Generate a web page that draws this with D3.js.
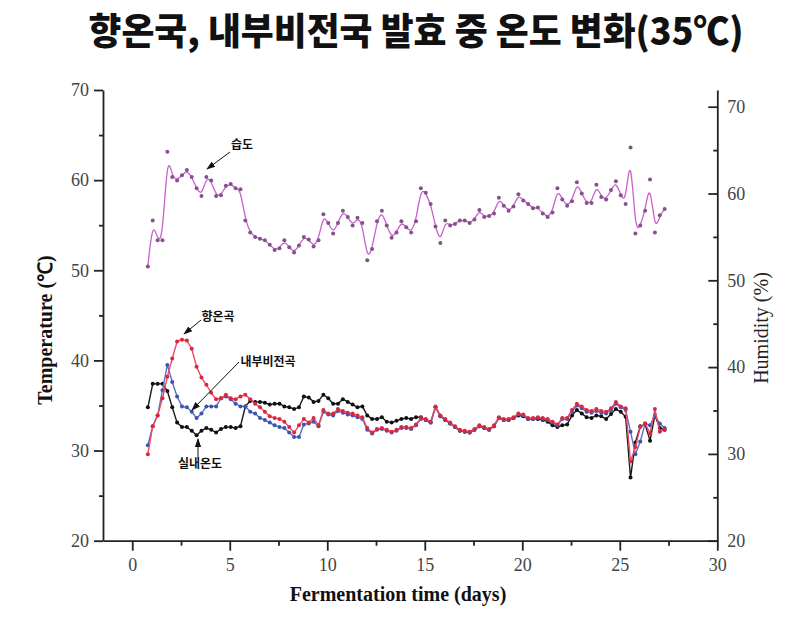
<!DOCTYPE html>
<html><head><meta charset="utf-8">
<script src="https://cdn.jsdelivr.net/npm/d3@7"></script>
<style>body{margin:0;background:#fff}</style>
</head><body><svg id="c" width="800" height="621"></svg>
<script>
const days = [0.80,1.05,1.30,1.55,1.80,2.05,2.30,2.55,2.80,3.05,3.30,3.55,3.80,4.05,4.30,4.55,4.80,5.05,5.30,5.55,5.80,6.05,6.30,6.55,6.80,7.05,7.30,7.55,7.80,8.05,8.30,8.55,8.80,9.05,9.30,9.55,9.80,10.05,10.30,10.55,10.80,11.05,11.30,11.55,11.80,12.05,12.30,12.55,12.80,13.05,13.30,13.55,13.80,14.05,14.30,14.55,14.80,15.05,15.30,15.55,15.80,16.05,16.30,16.55,16.80,17.05,17.30,17.55,17.80,18.05,18.30,18.55,18.80,19.05,19.30,19.55,19.80,20.05,20.30,20.55,20.80,21.05,21.30,21.55,21.80,22.05,22.30,22.55,22.80,23.05,23.30,23.55,23.80,24.05,24.30,24.55,24.80,25.05,25.30,25.55,25.80,26.05,26.30,26.55,26.80,27.05,27.30];

const humidity = [51.6,56.9,54.6,54.6,64.8,61.9,61.5,62.1,62.7,61.9,
60.6,59.7,61.9,61.5,59.7,59.8,60.9,61.1,60.6,60.5,
56.9,55.5,55.0,54.8,54.6,54.1,53.5,53.7,54.6,53.8,
53.2,54.0,55.0,54.7,53.9,54.6,57.6,56.6,55.4,56.6,
58.0,57.3,56.3,57.2,56.6,52.3,53.6,56.8,58.0,56.3,
54.9,55.5,56.8,56.1,55.5,56.8,60.6,60.1,58.8,56.2,
54.3,56.9,56.3,56.5,56.9,56.9,56.6,57.0,58.1,57.3,
57.4,57.7,59.5,58.6,58.0,58.5,59.9,59.2,58.8,58.3,
58.4,57.7,57.3,57.8,60.6,59.3,58.6,59.1,61.3,60.0,
58.9,58.9,61.0,59.6,59.3,60.4,61.4,59.8,58.8,65.3,
55.4,56.3,58.0,61.6,55.5,57.5,58.2];

const hyangon = [29.6,32.7,33.9,35.8,38.2,40.2,42.1,42.3,42.2,41.3,
39.3,38.1,37.3,36.4,35.7,35.8,36.2,35.8,35.7,36.0,
36.2,35.7,35.2,34.8,34.3,33.8,33.6,33.5,33.2,32.6,
32.0,32.8,33.5,33.1,33.6,32.8,34.5,34.1,34.1,34.6,
34.4,34.2,34.1,33.9,33.7,32.5,32.0,32.4,32.5,32.3,
32.1,32.3,32.6,32.6,32.5,32.9,33.6,33.5,33.2,34.9,
33.9,33.5,33.1,32.7,32.3,32.2,32.1,32.4,32.8,32.6,
32.4,32.8,33.7,33.5,33.5,33.7,34.1,34.0,33.6,33.6,
33.7,33.6,33.5,33.2,32.9,33.6,33.6,34.5,35.2,34.9,
34.5,34.4,34.6,34.4,34.3,34.7,35.4,34.9,34.7,28.8,
30.4,32.6,33.0,31.9,34.6,32.1,32.3];

const naebu = [30.6,32.7,33.9,36.7,39.5,37.6,36.0,34.9,34.8,34.3,
33.6,34.1,34.9,34.9,34.9,35.8,36.0,35.7,35.2,34.9,
34.9,34.3,34.1,33.6,33.4,33.1,32.8,32.6,32.5,32.0,
31.5,31.5,32.9,33.0,33.2,32.7,34.3,34.0,33.9,34.4,
34.2,34.0,33.9,33.7,33.5,32.3,31.9,32.3,32.4,32.2,
32.0,32.2,32.5,32.5,32.4,32.8,33.5,33.4,33.1,34.8,
33.8,33.4,33.0,32.6,32.2,32.1,32.0,32.3,32.7,32.5,
32.3,32.7,33.6,33.4,33.4,33.6,34.0,33.9,33.5,33.5,
33.6,33.5,33.4,33.1,32.8,33.5,33.5,34.3,35.0,34.7,
34.3,34.2,34.4,34.2,34.1,34.5,35.2,34.8,34.5,32.1,
29.6,31.0,33.0,32.8,33.9,33.0,32.5];

const indoor = [34.8,37.4,37.4,37.4,36.6,34.8,33.1,32.6,32.6,32.2,
31.7,32.2,32.5,32.3,32.0,32.4,32.6,32.6,32.5,32.7,
34.9,35.5,35.4,35.4,35.3,35.1,35.2,35.2,34.9,34.8,
34.6,34.8,36.0,35.9,35.4,35.5,36.2,35.8,35.2,35.2,
35.7,35.4,35.1,34.8,34.9,33.9,33.5,33.5,33.7,33.2,
33.1,33.3,33.5,33.6,33.5,33.7,33.7,33.4,33.1,34.8,
33.8,33.4,33.0,32.6,32.2,32.1,32.0,32.3,32.7,32.5,
32.3,32.7,33.6,33.4,33.4,33.6,33.9,33.8,33.5,33.5,
33.5,33.4,33.2,32.8,32.6,32.8,32.9,33.9,34.5,34.1,
33.7,33.6,33.9,33.8,33.5,34.05,34.6,34.3,33.75,27.0,
30.9,32.7,32.9,31.1,33.9,32.5,32.3];

const xMajor = [0,5,10,15,20,25,30];
const xMinor = [2.5,7.5,12.5,17.5,22.5,27.5];
const yMajor = [20,30,40,50,60,70];
const yMinor = [25,35,45,55,65];

const titleText = "향온국, 내부비전국 발효 중 온도 변화(35℃)";
const xTitle = "Fermentation time (days)";
const yTitle = "Temperature (℃)";
const y2Title = "Humidity (%)";
const labels = [
  {text:"습도", tx:242, ty:149, x1:230, y1:152, x2:207, y2:169},
  {text:"향온곡", tx:218, ty:321, x1:201, y1:320, x2:184, y2:334},
  {text:"내부비전곡", tx:268, ty:366, x1:239, y1:362, x2:192, y2:410},
  {text:"실내온도", tx:200, ty:468, x1:198, y1:457, x2:198, y2:439}
];

const svg = d3.select("#c");
const x = d3.scaleLinear().domain([-1.5, 30]).range([103, 717.3]);
const yT = d3.scaleLinear().domain([20, 70]).range([540.7, 90]);
const yH = d3.scaleLinear().domain([20, 70]).range([540.7, 106.7]);
const yHtop = yH.invert(90);
const yHaxis = d3.scaleLinear().domain([20, yHtop]).range([540.7, 90]);

const serif = "'Liberation Serif', 'Times New Roman', serif";
const korean = "'Noto Sans CJK KR', sans-serif";

// title
svg.append("text").attr("x", 416).attr("y", 45).attr("text-anchor","middle")
  .attr("font-family", korean).attr("font-weight", 900).attr("font-size", 37)
  .attr("textLength", 655).attr("lengthAdjust","spacingAndGlyphs")
  .attr("fill","#111").text(titleText);

function styleAxis(g){
  g.select(".domain").attr("stroke","#222").attr("stroke-width",1.8);
  g.selectAll(".tick line").attr("stroke","#222").attr("stroke-width",1.8);
  g.selectAll(".tick text").attr("font-family",serif).attr("font-size",18).attr("fill","#444");
}

// left axis
const gl = svg.append("g").attr("transform","translate(103,0)")
  .call(d3.axisLeft(yT).tickValues(yMajor).tickSize(9).tickPadding(5).tickSizeOuter(0));
styleAxis(gl);
const glm = svg.append("g").attr("transform","translate(103,0)")
  .call(d3.axisLeft(yT).tickValues(yMinor).tickSize(4).tickFormat("").tickSizeOuter(0));
styleAxis(glm); glm.select(".domain").remove();

// right axis
const gr = svg.append("g").attr("transform","translate(717.3,0)")
  .call(d3.axisRight(yHaxis).tickValues(yMajor).tickSizeInner(-9).tickSizeOuter(0).tickPadding(10));
styleAxis(gr);
const grm = svg.append("g").attr("transform","translate(717.3,0)")
  .call(d3.axisRight(yHaxis).tickValues(yMinor).tickSizeInner(-4).tickSizeOuter(0).tickFormat(""));
styleAxis(grm); grm.select(".domain").remove();

// bottom axis
const gb = svg.append("g").attr("transform","translate(0,540.7)")
  .call(d3.axisBottom(x).tickValues(xMajor).tickSize(10).tickPadding(8).tickSizeOuter(0));
styleAxis(gb);
const gbm = svg.append("g").attr("transform","translate(0,540.7)")
  .call(d3.axisBottom(x).tickValues(xMinor).tickSize(5).tickFormat("").tickSizeOuter(0));
styleAxis(gbm); gbm.select(".domain").remove();

// axis titles
svg.append("text").attr("x", 398).attr("y", 601).attr("text-anchor","middle")
  .attr("font-family", serif).attr("font-weight","bold").attr("font-size",20).attr("fill","#111").text(xTitle);
svg.append("text").attr("transform","translate(52,330) rotate(-90)").attr("text-anchor","middle")
  .attr("font-family", serif).attr("font-weight","bold").attr("font-size",20).attr("fill","#111").text(yTitle);
svg.append("text").attr("transform","translate(768,328) rotate(-90)").attr("text-anchor","middle")
  .attr("font-family", serif).attr("font-size",20).attr("fill","#222").text(y2Title);

// humidity
const hData = days.map((d,i)=>[d, humidity[i]]);
svg.append("path").datum(hData)
  .attr("d", d3.line().x(d=>x(d[0])).y(d=>yH(d[1])).curve(d3.curveBasis))
  .attr("fill","none").attr("stroke","#c95fcf").attr("stroke-width",1.3);
svg.append("g").selectAll("circle").data(hData).join("circle")
  .attr("cx", d=>x(d[0])).attr("cy", d=>yH(d[1])).attr("r",2)
  .attr("fill","#84528a");

// temperature series
const series = [
  {vals: indoor, line:"#1a1a1a", dot:"#111"},
  {vals: naebu, line:"#5d6fc4", dot:"#3a54b0"},
  {vals: hyangon, line:"#ec4a62", dot:"#d9283e"}
];
series.forEach(s=>{
  const data = days.map((d,i)=>[d, s.vals[i]]);
  svg.append("path").datum(data)
    .attr("d", d3.line().x(d=>x(d[0])).y(d=>yT(d[1])))
    .attr("fill","none").attr("stroke", s.line).attr("stroke-width",1.4);
  svg.append("g").selectAll("circle").data(data).join("circle")
    .attr("cx", d=>x(d[0])).attr("cy", d=>yT(d[1])).attr("r",2)
    .attr("fill", s.dot);
});

// annotations
svg.append("defs").append("marker").attr("id","ah").attr("viewBox","0 0 10 10")
  .attr("refX",9).attr("refY",5).attr("markerWidth",9).attr("markerHeight",9)
  .attr("orient","auto").append("path").attr("d","M0,1.5 L10,5 L0,8.5 Z").attr("fill","#111");
labels.forEach(l=>{
  svg.append("line").attr("x1",l.x1).attr("y1",l.y1).attr("x2",l.x2).attr("y2",l.y2)
    .attr("stroke","#111").attr("stroke-width",1).attr("marker-end","url(#ah)");
  svg.append("text").attr("x",l.tx).attr("y",l.ty).attr("text-anchor","middle")
    .attr("font-family",korean).attr("font-weight","bold").attr("font-size",12)
    .attr("fill","#111").text(l.text);
});
</script></body></html>
